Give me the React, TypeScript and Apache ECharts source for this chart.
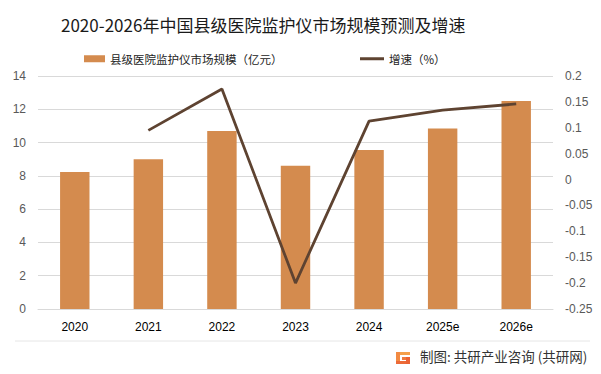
import React, { useEffect, useRef } from "react";
import * as echarts from "echarts";

const categories = ["2020", "2021", "2022", "2023", "2024", "2025e", "2026e"];
const marketSize = [8.23, 9.0, 10.7, 8.6, 9.55, 10.85, 12.5];
const growth = [null, 0.095, 0.175, -0.2, 0.113, 0.134, 0.146];
const leftTicks = { min: 0, max: 14, interval: 2 };
const rightTicks = { min: -0.25, max: 0.2, interval: 0.05 };

const barName = "县级医院监护仪市场规模（亿元）";
const lineName = "增速（%）";

export default function App() {
  const ref = useRef<HTMLDivElement>(null);
  useEffect(() => {
    document.body.style.margin = "0";
    const chart = echarts.init(ref.current!, undefined, { renderer: "svg" });
    const cjk = "'Noto Sans CJK SC', sans-serif";
    const num = "'Liberation Sans', 'Noto Sans', sans-serif";
    chart.setOption({
      animation: false,
      backgroundColor: "#ffffff",
      title: {
        text: "2020-2026年中国县级医院监护仪市场规模预测及增速",
        left: 56,
        top: 11,
        textStyle: { fontFamily: cjk, fontSize: 17, fontWeight: "normal", color: "#1a1a1a" },
      },
      legend: [
        {
          data: [barName],
          left: 79,
          top: 48,
          itemWidth: 21,
          itemHeight: 7,
          itemGap: 4,
          icon: "rect",
          textStyle: { fontFamily: cjk, fontSize: 11.5, color: "#222" },
        },
        {
          data: [lineName],
          left: 355,
          top: 48,
          itemWidth: 24,
          itemHeight: 3,
          icon: "rect",
          textStyle: { fontFamily: cjk, fontSize: 11.5, color: "#222" },
        },
      ],
      grid: { left: 38, right: 48, top: 76, bottom: 65 },
      xAxis: {
        type: "category",
        data: categories,
        axisLine: { lineStyle: { color: "#d9d9d9" } },
        axisTick: { show: false },
        axisLabel: { fontFamily: num, fontSize: 12, color: "#000", margin: 12 },
      },
      yAxis: [
        {
          type: "value",
          min: leftTicks.min,
          max: leftTicks.max,
          interval: leftTicks.interval,
          axisLine: { show: false },
          axisTick: { show: false },
          splitLine: { lineStyle: { color: "#d9d9d9" } },
          axisLabel: { fontFamily: num, fontSize: 12, color: "#595959", margin: 12 },
        },
        {
          type: "value",
          min: rightTicks.min,
          max: rightTicks.max,
          interval: rightTicks.interval,
          axisLine: { show: false },
          axisTick: { show: false },
          splitLine: { show: false },
          axisLabel: {
            fontFamily: num,
            fontSize: 12,
            color: "#595959",
            margin: 12,
            formatter: (v: number) => String(Math.round(v * 100) / 100),
          },
        },
      ],
      series: [
        {
          name: barName,
          type: "bar",
          data: marketSize,
          barWidth: "40%",
          itemStyle: { color: "#d48b4e" },
        },
        {
          name: lineName,
          type: "line",
          yAxisIndex: 1,
          data: growth,
          symbol: "none",
          lineStyle: { color: "#5e4331", width: 2.8 },
          itemStyle: { color: "#5e4331" },
        },
      ],
      graphic: [
        {
          type: "line",
          shape: { x1: 15, y1: 341, x2: 590, y2: 341 },
          style: { stroke: "#e6e6e6", lineWidth: 1 },
        },
        {
          type: "group",
          left: 396,
          top: 352,
          children: [
            { type: "rect", shape: { x: 0, y: 0, width: 14, height: 3 }, style: { fill: "#f5a04a" } },
            { type: "rect", shape: { x: 0, y: 0, width: 4, height: 12 }, style: { fill: "#f28a42" } },
            { type: "rect", shape: { x: 0, y: 9, width: 14, height: 3 }, style: { fill: "#ec6a38" } },
            { type: "rect", shape: { x: 6, y: 5, width: 8, height: 3 }, style: { fill: "#ee7a3c" } },
            { type: "rect", shape: { x: 10, y: 5, width: 4, height: 7 }, style: { fill: "#ea6234" } },
          ],
        },
        {
          type: "text",
          left: 420,
          top: 349,
          style: {
            text: "制图: 共研产业咨询 (共研网)",
            fontFamily: cjk,
            fontSize: 13.5,
            fill: "#333",
          },
        },
      ],
    });
    return () => chart.dispose();
  }, []);
  return (
    <div
      ref={ref}
      style={{ position: "fixed", left: 0, top: 0, width: 601, height: 374 }}
    />
  );
}
